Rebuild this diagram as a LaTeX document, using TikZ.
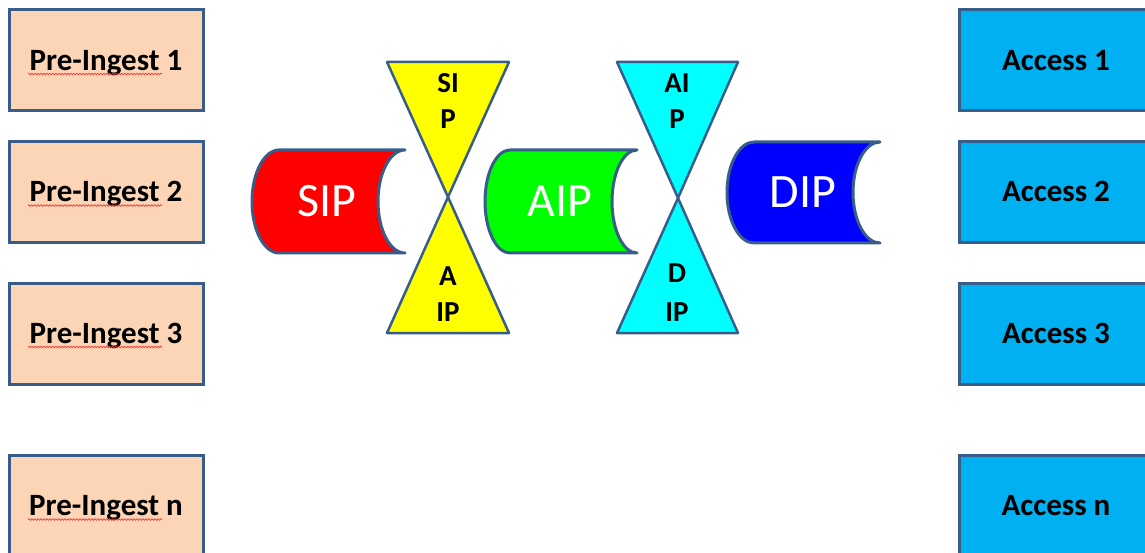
\documentclass[tikz,border=0pt]{standalone}
\usepackage{fontspec}
\setmainfont{Carlito}
\usetikzlibrary{decorations.pathmorphing}
\definecolor{edge}{RGB}{56,93,138}
\definecolor{peach}{RGB}{251,213,181}
\definecolor{sky}{RGB}{0,176,240}
\definecolor{canred}{RGB}{255,0,0}
\definecolor{cangreen}{RGB}{0,255,0}
\definecolor{canblue}{RGB}{0,0,255}
\definecolor{hgyellow}{RGB}{255,255,0}
\definecolor{hgcyan}{RGB}{0,255,255}
\tikzset{
  x=1pt, y=-1pt,
  prebox/.style={draw=edge, line width=3pt, fill=peach, minimum width=194pt, minimum height=101pt,
    inner sep=0pt, font=\fontsize{31}{33}\selectfont\bfseries, text height=19.5pt, text depth=0pt},
  accbox/.style={prebox, fill=sky},
  can/.style={draw=edge, line width=3pt, line join=round},
  tri/.style={draw=edge, line width=2.5pt, line join=round},
  bigtxt/.style={text=white, font=\fontsize{48}{50}\selectfont, text height=30pt, text depth=0pt, inner sep=0pt},
  smalltxt/.style={font=\fontsize{29}{31}\selectfont\bfseries, text height=18pt, text depth=0pt, inner sep=0pt},
  squiggle/.style={draw=red!80, line width=0.7pt, decorate, decoration={snake, segment length=3pt, amplitude=0.8pt}}
}
\begin{document}
\begin{tikzpicture}
\useasboundingbox (0,0) rectangle (1145,553);
% left boxes
\node[prebox] (p1) at (106,60.5) {Pre-Ingest 1};
\node[prebox] (p2) at (106,192) {Pre-Ingest 2};
\node[prebox] (p3) at (106,333.5) {Pre-Ingest 3};
\node[prebox] (pn) at (106,506) {Pre-Ingest n};
\foreach \yy in {74,205.5,347,519.5} \draw[squiggle] (28,\yy) -- (162,\yy);
% right boxes
\node[accbox] (a1) at (1056,60.5) {Access 1};
\node[accbox] (a2) at (1056,192) {Access 2};
\node[accbox] (a3) at (1056,333.5) {Access 3};
\node[accbox] (an) at (1056,506) {Access n};
% SIP can
\path[can, fill=canred] (405,150) -- (279,150) arc[start angle=-90, end angle=-270, x radius=27, y radius=51.5]
  -- (405,253) arc[start angle=90, end angle=270, x radius=27, y radius=51.5] -- cycle;
\node[bigtxt] (sip) at (327,202) {SIP};
% AIP can
\path[can, fill=cangreen] (637,150) -- (510,150) arc[start angle=-90, end angle=-270, x radius=25, y radius=51.5]
  -- (637,253) arc[start angle=90, end angle=270, x radius=25, y radius=51.5] -- cycle;
\node[bigtxt] (aip) at (560,202) {AIP};
% DIP can
\path[can, fill=canblue] (880,142) -- (754,142) arc[start angle=-90, end angle=-270, x radius=27, y radius=50.5]
  -- (880,243) arc[start angle=90, end angle=270, x radius=27, y radius=50.5] -- cycle;
\node[bigtxt] (dip) at (803,192.5) {DIP};
% yellow hourglass
\path[tri, fill=hgyellow] (387,62) -- (509,62) -- (448,197) -- cycle;
\path[tri, fill=hgyellow] (387,333) -- (509,333) -- (448,197) -- cycle;
\node[smalltxt] (y1) at (448,83.5) {SI};
\node[smalltxt] (y2) at (448,120) {P};
\node[smalltxt] (y3) at (448,276) {A};
\node[smalltxt] (y4) at (448,312.5) {IP};
% cyan hourglass
\path[tri, fill=hgcyan] (617,62) -- (738,62) -- (678,198) -- cycle;
\path[tri, fill=hgcyan] (617,333) -- (738,333) -- (678,198) -- cycle;
\node[smalltxt] (c1) at (677,83.5) {AI};
\node[smalltxt] (c2) at (677,120) {P};
\node[smalltxt] (c3) at (677,274) {D};
\node[smalltxt] (c4) at (677,312.5) {IP};
\end{tikzpicture}
\end{document}
